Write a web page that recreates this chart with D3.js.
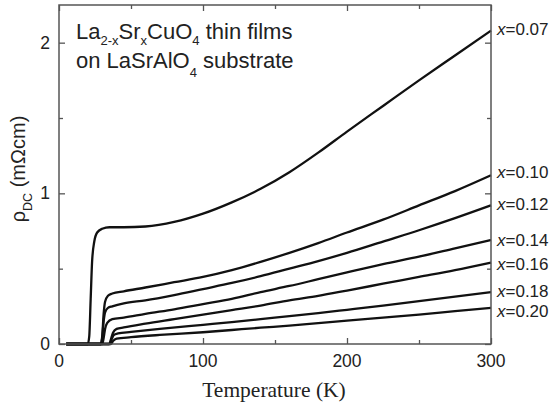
<!DOCTYPE html>
<html>
<head>
<meta charset="utf-8">
<script src="https://cdn.jsdelivr.net/npm/d3@7"></script>
<style>
  body { margin: 0; background: #fff; }
  svg { display: block; }
  .tick-label { font-family: "Liberation Sans", Arial, sans-serif; font-size: 17.5px; fill: #222; }
</style>
</head>
<body>
<div id="chart"></div>
<script>
// Sr content of each film
const dopings = ["0.07", "0.10", "0.12", "0.14", "0.16", "0.18", "0.20"];

// [T (K), rho (mOhm cm)]
const rho007 = [[5,0],[20,0],[21,0.05],[22,0.3],[23,0.55],[24.5,0.68],[26.5,0.74],[30,0.765],[35,0.775],[45,0.775],[60,0.78],[80,0.81],[100,0.865],[120,0.94],[140,1.03],[160,1.14],[180,1.27],[200,1.41],[225,1.58],[250,1.75],[275,1.915],[300,2.08]];
const rho010 = [[5,0],[29,0],[30,0.05],[31,0.2],[32,0.28],[34,0.32],[37,0.335],[45,0.35],[60,0.375],[80,0.41],[100,0.445],[120,0.49],[140,0.545],[160,0.605],[180,0.67],[200,0.74],[225,0.825],[250,0.92],[275,1.015],[300,1.12]];
const rho012 = [[5,0],[29,0],[30,0.04],[31,0.15],[32,0.21],[34,0.24],[37,0.25],[45,0.27],[60,0.29],[80,0.325],[100,0.365],[120,0.405],[140,0.45],[160,0.5],[180,0.55],[200,0.605],[225,0.68],[250,0.755],[275,0.835],[300,0.92]];
const rho014 = [[5,0],[30,0],[31,0.04],[32,0.1],[33.5,0.14],[37,0.165],[45,0.175],[60,0.2],[80,0.23],[100,0.265],[120,0.3],[140,0.345],[160,0.385],[180,0.43],[200,0.475],[225,0.53],[250,0.58],[275,0.635],[300,0.69]];
const rho016 = [[5,0],[35,0],[36,0.03],[37.5,0.075],[40,0.1],[45,0.11],[60,0.135],[80,0.165],[100,0.195],[120,0.225],[140,0.255],[160,0.29],[180,0.32],[200,0.355],[225,0.4],[250,0.445],[275,0.49],[300,0.54]];
const rho018 = [[5,0],[35,0],[36.5,0.03],[38,0.06],[41,0.07],[50,0.08],[70,0.1],[100,0.127],[120,0.145],[140,0.165],[160,0.185],[180,0.205],[200,0.227],[225,0.255],[250,0.285],[275,0.315],[300,0.345]];
const rho020 = [[5,0],[36,0],[37.5,0.02],[40,0.035],[50,0.045],[70,0.06],[100,0.078],[120,0.093],[140,0.108],[160,0.122],[180,0.138],[200,0.155],[225,0.175],[250,0.195],[275,0.218],[300,0.24]];
const allSeries = [rho007, rho010, rho012, rho014, rho016, rho018, rho020];

// where the right-hand labels sit (rho units)
const labelRho = [2.09, 1.14, 0.93, 0.69, 0.53, 0.35, 0.22];

const xMajor = [0, 100, 200, 300];
const xMinor = [50, 150, 250];
const yMajor = [0, 1, 2];
const yMinor = [0.5, 1.5];

const width = 552, height = 408;
const plotLeft = 59, plotRight = 491, plotTop = 5, plotBottom = 344;

const x = d3.scaleLinear().domain([0, 300]).range([plotLeft, plotRight]);
const y = d3.scaleLinear().domain([0, 2.25]).range([plotBottom, plotTop]);

const svg = d3.select("#chart").append("svg")
    .attr("width", width)
    .attr("height", height);

// curves
const line = d3.line()
    .x(d => x(d[0]))
    .y(d => y(d[1]))
    .curve(d3.curveMonotoneX);

svg.append("g").selectAll("path")
    .data(allSeries)
    .join("path")
    .attr("d", line)
    .attr("fill", "none")
    .attr("stroke", "#111")
    .attr("stroke-width", 2.3);

// frame + inward ticks on all four sides
const frameColor = "#555";
svg.append("rect")
    .attr("x", plotLeft).attr("y", plotTop)
    .attr("width", plotRight - plotLeft).attr("height", plotBottom - plotTop)
    .attr("fill", "none")
    .attr("stroke", frameColor)
    .attr("stroke-width", 1.5);

function ticks(axisFn, scale, values, len, translate) {
    svg.append("g")
        .attr("transform", translate)
        .call(axisFn(scale).tickValues(values).tickSize(-len).tickFormat(""))
        .call(g => g.select(".domain").remove())
        .call(g => g.selectAll("line").attr("stroke", frameColor).attr("stroke-width", 1.3));
}
ticks(d3.axisBottom, x, xMajor, 6, `translate(0,${plotBottom})`);
ticks(d3.axisBottom, x, xMinor, 4, `translate(0,${plotBottom})`);
ticks(d3.axisTop, x, xMajor, 6, `translate(0,${plotTop})`);
ticks(d3.axisTop, x, xMinor, 4, `translate(0,${plotTop})`);
ticks(d3.axisLeft, y, yMajor, 6, `translate(${plotLeft},0)`);
ticks(d3.axisLeft, y, yMinor, 4, `translate(${plotLeft},0)`);
ticks(d3.axisRight, y, yMajor, 6, `translate(${plotRight},0)`);
ticks(d3.axisRight, y, yMinor, 4, `translate(${plotRight},0)`);

// tick labels
svg.append("g").selectAll("text")
    .data(xMajor)
    .join("text")
    .attr("class", "tick-label")
    .attr("x", d => x(d))
    .attr("y", plotBottom + 23)
    .attr("text-anchor", "middle")
    .text(d => d);

svg.append("g").selectAll("text")
    .data(yMajor)
    .join("text")
    .attr("class", "tick-label")
    .attr("x", plotLeft - 9)
    .attr("y", d => y(d) + 6)
    .attr("text-anchor", "end")
    .text(d => d);

// x title
svg.append("text")
    .attr("x", 274)
    .attr("y", 397)
    .attr("text-anchor", "middle")
    .style("font-family", "'Liberation Serif', 'Times New Roman', serif")
    .style("font-size", "21.5px")
    .style("fill", "#222")
    .text("Temperature (K)");

// y title
const yt = svg.append("text")
    .attr("transform", "translate(25,169) rotate(-90)")
    .attr("text-anchor", "middle")
    .style("font-family", "'Liberation Sans', Arial, sans-serif")
    .style("font-size", "20px")
    .style("fill", "#222");
yt.append("tspan").text("ρ");
yt.append("tspan").attr("dy", 7).style("font-size", "12.5px").text("DC");
yt.append("tspan").attr("dy", -7).text(" (mΩcm)");

// series labels on the right
const lab = svg.append("g").selectAll("text")
    .data(dopings)
    .join("text")
    .attr("x", plotRight + 6)
    .attr("y", (d, i) => y(labelRho[i]) + 6)
    .style("font-family", "'Liberation Sans', Arial, sans-serif")
    .style("font-size", "17px")
    .style("fill", "#222");
lab.append("tspan").style("font-style", "italic").text("x");
lab.append("tspan").text(d => "=" + d);

// annotation
const note = svg.append("g")
    .style("font-family", "'Liberation Sans', Arial, sans-serif")
    .style("font-size", "22px")
    .style("fill", "#222");
const sub1 = 6, sub2 = 9;
const l1 = note.append("text").attr("x", 76).attr("y", 39);
l1.append("tspan").text("La");
l1.append("tspan").attr("dy", sub1).style("font-size", "13px").text("2-x");
l1.append("tspan").attr("dy", -sub1).text("Sr");
l1.append("tspan").attr("dy", sub1).style("font-size", "13px").text("x");
l1.append("tspan").attr("dy", -sub1).text("CuO");
l1.append("tspan").attr("dy", sub1).style("font-size", "13px").text("4");
l1.append("tspan").attr("dy", -sub1).text(" thin films");
const l2 = note.append("text").attr("x", 76).attr("y", 68);
l2.append("tspan").text("on LaSrAlO");
l2.append("tspan").attr("dy", sub2).style("font-size", "13px").text("4");
l2.append("tspan").attr("dy", -sub2).text(" substrate");
</script>
</body>
</html>
